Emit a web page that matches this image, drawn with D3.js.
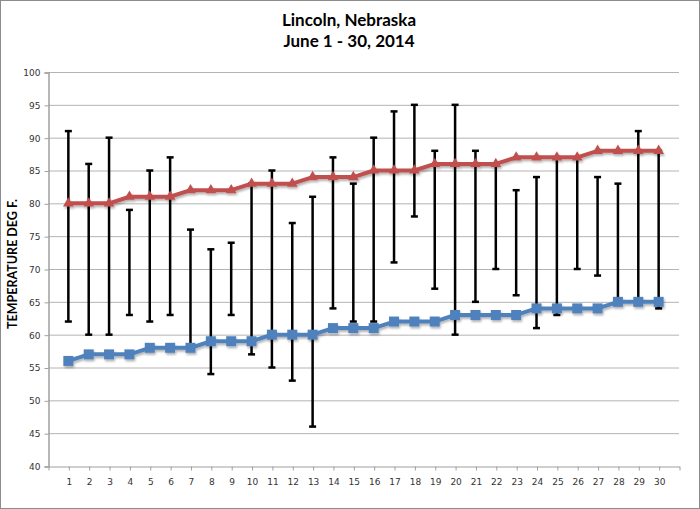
<!DOCTYPE html>
<html><head><meta charset="utf-8">
<script src="https://cdn.jsdelivr.net/npm/d3@7"></script>
<style>body{margin:0;background:#fff}svg{display:block}</style>
</head><body>
<script>
const days = d3.range(1, 31);
const avgHigh = [80,80,80,81,81,81,82,82,82,83,83,83,84,84,84,85,85,85,86,86,86,86,87,87,87,87,88,88,88,88];
const avgLow  = [56,57,57,57,58,58,58,59,59,59,60,60,60,61,61,61,62,62,62,63,63,63,63,64,64,64,64,65,65,65];
const rangeHigh = [91,86,90,79,85,87,76,73,74,83,85,77,81,87,83,90,94,95,88,95,88,86,82,84,87,87,84,83,91,88];
const rangeLow  = [62,60,60,63,62,63,58,54,63,57,55,53,46,64,62,62,71,78,67,60,65,70,66,61,63,70,69,65,65,64];
const yTicks = d3.range(40, 101, 5);

const W = 700, H = 509;
const svg = d3.select("body").append("svg").attr("width", W).attr("height", H);
svg.append("rect").attr("x",0.5).attr("y",0.5).attr("width",W-1).attr("height",H-1)
  .attr("fill","#fff").attr("stroke","#8c8c8c");

const defs = svg.append("defs");
const f = defs.append("filter").attr("id","sh").attr("x","-20%").attr("y","-20%").attr("width","140%").attr("height","160%");
f.append("feDropShadow").attr("dx",1).attr("dy",2).attr("stdDeviation",1.2).attr("flood-color","#000").attr("flood-opacity",0.3);

const x = d3.scaleLinear().domain([0, 31]).range([48, 679]);
const y = d3.scaleLinear().domain([40, 100]).range([466, 72]);

// gridlines
svg.append("g").selectAll("line").data(yTicks.slice(1)).join("line")
  .attr("x1", x(0)).attr("x2", x(31)).attr("y1", d => y(d)+0.5).attr("y2", d => y(d)+0.5)
  .attr("stroke", "#b4b4b4").attr("stroke-width", 1);

// y axis
const ya = svg.append("g").attr("transform", `translate(${x(0)+0.5},0.5)`)
  .call(d3.axisLeft(y).tickValues(yTicks).tickSize(4).tickPadding(4));
ya.select(".domain").attr("stroke", "#a0a0a0").attr("stroke-width", 1.5);
ya.selectAll(".tick line").attr("stroke", "#a0a0a0");
ya.selectAll("text").attr("font-family", "DejaVu Sans").attr("font-size", 9).attr("fill", "#333");

// x axis
const xa = svg.append("g").attr("transform", `translate(0.5,${y(40)+0.5})`)
  .call(d3.axisBottom(x).tickValues(d3.range(0, 32)).tickSize(4).tickSizeOuter(0).tickPadding(8)
    .tickFormat(d => (d >= 1 && d <= 30) ? d : ""));
xa.select(".domain").attr("stroke", "#a0a0a0").attr("stroke-width", 1);
xa.selectAll(".tick line").attr("stroke", "#a0a0a0");
xa.selectAll("text").attr("font-family", "DejaVu Sans").attr("font-size", 9).attr("fill", "#333");

// error bars
const eb = svg.append("g").attr("stroke", "#000").attr("stroke-width", 2.5);
days.forEach((d, i) => {
  const cx = x(d);
  eb.append("line").attr("x1", cx).attr("x2", cx).attr("y1", y(rangeHigh[i])).attr("y2", y(rangeLow[i]));
  eb.append("line").attr("x1", cx-3.5).attr("x2", cx+3.5).attr("y1", y(rangeHigh[i])).attr("y2", y(rangeHigh[i]));
  eb.append("line").attr("x1", cx-3.5).attr("x2", cx+3.5).attr("y1", y(rangeLow[i])).attr("y2", y(rangeLow[i]));
});

const line = d3.line().x((d, i) => x(days[i])).y(d => y(d));

// high series
const gh = svg.append("g").attr("filter", "url(#sh)");
gh.append("path").datum(avgHigh).attr("d", line).attr("fill", "none")
  .attr("stroke", "#C0504D").attr("stroke-width", 4).attr("stroke-linejoin", "round");
gh.selectAll("path.m").data(avgHigh).join("path").attr("class", "m")
  .attr("transform", (d, i) => `translate(${x(days[i])},${y(d)})`)
  .attr("d", d3.symbol(d3.symbolTriangle, 50)).attr("fill", "#C0504D");

// low series
const gl = svg.append("g").attr("filter", "url(#sh)");
gl.append("path").datum(avgLow).attr("d", line).attr("fill", "none")
  .attr("stroke", "#4F81BD").attr("stroke-width", 4).attr("stroke-linejoin", "round");
gl.selectAll("rect").data(avgLow).join("rect")
  .attr("x", (d, i) => x(days[i]) - 5).attr("y", d => y(d) - 5)
  .attr("width", 10).attr("height", 10).attr("fill", "#4F81BD");

// titles
svg.append("text").attr("x", 349).attr("y", 26).attr("text-anchor", "middle")
  .attr("font-family", "Lato").attr("font-weight", "bold").attr("font-size", 17).attr("fill", "#000")
  .text("Lincoln, Nebraska");
svg.append("text").attr("x", 349).attr("y", 47).attr("text-anchor", "middle")
  .attr("font-family", "Lato").attr("font-weight", "bold").attr("font-size", 17).attr("fill", "#000")
  .text("June 1 - 30, 2014");
svg.append("text").attr("transform", "translate(17,264) rotate(-90)").attr("text-anchor", "middle")
  .attr("font-family", "Lato").attr("font-weight", "bold").attr("font-size", 12.5).attr("fill", "#000")
  .text("TEMPERATURE DEG F.");
</script>
</body></html>
